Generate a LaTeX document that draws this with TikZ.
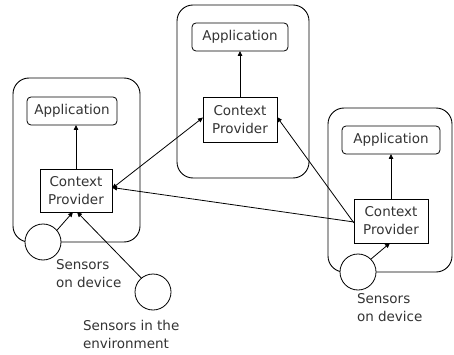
\documentclass[tikz,border=0pt]{standalone}
\usepackage{fontspec}
\setmainfont{DejaVu Sans}
\usetikzlibrary{arrows.meta}
\begin{document}
\begin{tikzpicture}[x=1pt,y=-1pt,
  every node/.style={inner sep=0pt,outer sep=0pt},
  txt/.style={font=\fontsize{13.5}{18}\selectfont,text=black!80},
  device/.style={draw,line width=0.9pt,rounded corners=16pt},
  appbox/.style={draw,line width=0.8pt,rounded corners=4pt,txt,minimum height=28pt},
  cpbox/.style={draw,line width=0.7pt,txt,align=center,minimum height=44pt,minimum width=74pt},
  sensor/.style={draw,line width=0.8pt,circle,fill=white,minimum size=36pt},
  lbl/.style={txt,align=left},
  arr/.style={line width=0.8pt,-{Triangle[length=5pt,width=4.5pt]}},
  darr/.style={line width=0.8pt,{Triangle[length=5pt,width=4.5pt]}-{Triangle[length=5pt,width=4.5pt]}}]
\useasboundingbox (0,0) rectangle (454,355);
% devices
\node[device,minimum width=127pt,minimum height=164pt] (devL) at (76.5,160) {};
\node[device,minimum width=132pt,minimum height=173pt] (devT) at (243,91.5) {};
\node[device,minimum width=124pt,minimum height=164pt] (devR) at (390,190) {};
% applications
\node[appbox,minimum width=90pt] (appL) at (72,111) {Application};
\node[appbox,minimum width=96pt] (appT) at (240,37) {Application};
\node[appbox,minimum width=98pt] (appR) at (391,140) {Application};
% context providers
\node[cpbox,minimum width=72pt,minimum height=43pt] (cpL) at (76,190.5) {Context\\Provider};
\node[cpbox,minimum height=45pt] (cpT) at (240,119.5) {Context\\Provider};
\node[cpbox] (cpR) at (391,221) {Context\\Provider};
% sensors
\node[sensor] (sL) at (43,242) {};
\node[sensor] (sR) at (358,272) {};
\node[sensor] (sE) at (153,292) {};
% labels
\node[lbl,anchor=north west] (tL) at (56,259) {Sensors\\on device};
\node[lbl,anchor=north west] (tR) at (357,293) {Sensors\\on device};
\node[lbl,anchor=north west] (tE) at (83,320) {Sensors in the\\environment};
% connectors
\draw[arr] (cpL.north) -- (appL.south -| cpL.north);
\draw[arr] (cpT.north) -- (appT.south);
\draw[arr] (cpR.north) -- (appR.south -| cpR.north);
\draw[arr] (sL.40) -- ([xshift=-3pt]cpL.south);
\draw[arr] (sE.130) -- ([xshift=1pt]cpL.south);
\draw[arr] (sR.45) -- ([xshift=-1pt]cpR.south);
\draw[darr] ([yshift=2pt]cpL.east) -- ([yshift=2pt]cpT.west);
\draw[arr] ([yshift=-1pt]cpR.west) -- ([yshift=3pt]cpL.east);
\draw[arr] ([yshift=-2pt]cpR.west) -- ([yshift=2.5pt]cpT.east);
\end{tikzpicture}
\end{document}
